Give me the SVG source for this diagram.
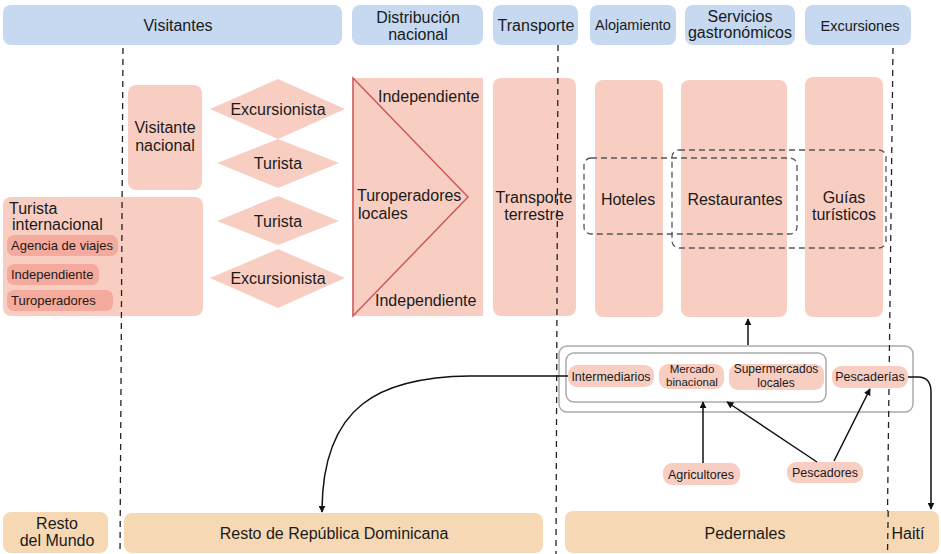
<svg xmlns="http://www.w3.org/2000/svg" width="941" height="554" viewBox="0 0 941 554">
  <defs>
    <style>
      text { font-family: "Liberation Sans", Arial, sans-serif; fill: #1a1a1a; }
      .hdr { fill: #c6d9f0; }
      .blk { fill: #f9cec2; }
      .sub { fill: #f4aa9c; }
      .pill { fill: #f9cec2; }
      .land { fill: #f6d9b4; }
      .c { text-anchor: middle; }
      .f16 { font-size: 16px; }
      .f15 { font-size: 15px; }
      .f13 { font-size: 13px; }
      .f12 { font-size: 12px; }
      .divider { stroke: #222; stroke-width: 1.3; stroke-dasharray: 6 5; fill: none; }
      .grp { fill: none; stroke: #555; stroke-width: 1.3; stroke-dasharray: 6 4; }
      .box { fill: #fff; stroke: #aaa; stroke-width: 1.5; }
      .link { fill: none; stroke: #111; stroke-width: 1.5; }
    </style>
    <marker id="arrow" viewBox="0 0 10 10" refX="9" refY="5" markerWidth="7" markerHeight="7" orient="auto-start-reverse" markerUnits="userSpaceOnUse">
      <path d="M0,0 L10,5 L0,10 z" fill="#111"/>
    </marker>
  </defs>

  <rect width="941" height="554" fill="#fff"/>

  <!-- column headers -->
  <g id="hdr-visitantes"><rect class="hdr" x="3" y="5" width="339" height="40" rx="8"/><text class="c f16" x="178" y="31">Visitantes</text></g>
  <g id="hdr-distribucion"><rect class="hdr" x="352" y="5" width="131" height="40" rx="8"/><text class="c f16" x="418" y="23">Distribución</text><text class="c f16" x="418" y="40">nacional</text></g>
  <g id="hdr-transporte"><rect class="hdr" x="493" y="5" width="85" height="40" rx="8"/><text class="c f16" x="536" y="31">Transporte</text></g>
  <g id="hdr-alojamiento"><rect class="hdr" x="590" y="5" width="86" height="40" rx="8"/><text class="c" style="font-size:14.5px" x="633" y="30">Alojamiento</text></g>
  <g id="hdr-gastronomia"><rect class="hdr" x="685" y="5" width="110" height="40" rx="8"/><text class="c f16" x="740" y="22">Servicios</text><text class="c f16" x="740" y="38">gastronómicos</text></g>
  <g id="hdr-excursiones"><rect class="hdr" x="805" y="5" width="106" height="40" rx="8"/><text class="c" style="font-size:14.5px" x="860" y="31">Excursiones</text></g>

  <!-- visitors -->
  <g id="visitante-nacional"><rect class="blk" x="128" y="85" width="74" height="105" rx="8"/><text class="c f16" x="165" y="133">Visitante</text><text class="c f16" x="165" y="151">nacional</text></g>
  <g id="turista-internacional">
    <rect class="blk" x="3" y="197" width="200" height="119" rx="8"/>
    <text class="f16" x="9" y="214">Turista</text>
    <text class="f16" x="12" y="230">internacional</text>
    <rect class="sub" x="7" y="235" width="111" height="21" rx="7"/><text class="f13" x="11" y="250">Agencia de viajes</text>
    <rect class="sub" x="7" y="264" width="92" height="21" rx="7"/><text class="f13" x="11" y="279">Independiente</text>
    <rect class="sub" x="7" y="290" width="106" height="21" rx="7"/><text class="f13" x="11" y="305">Turoperadores</text>
  </g>
  <g id="excursionista-nac"><polygon class="blk" points="210,109 278,79 345,109 278,139"/><text class="c f16" x="278" y="115">Excursionista</text></g>
  <g id="turista-nac"><polygon class="blk" points="217,163 278,139 339,163 278,188"/><text class="c f16" x="278" y="169">Turista</text></g>
  <g id="turista-int"><polygon class="blk" points="217,221 278,196 339,221 278,245"/><text class="c f16" x="278" y="227">Turista</text></g>
  <g id="excursionista-int"><polygon class="blk" points="210,278 278,249 345,278 278,308"/><text class="c f16" x="278" y="284">Excursionista</text></g>

  <!-- national distribution -->
  <g id="turoperadores-locales">
    <rect class="blk" x="352" y="78" width="131" height="238"/>
    <polygon points="353,78 468,197 353,316" fill="none" stroke="#cc5a5a" stroke-width="1.5"/>
    <text class="f16" x="378" y="102">Independiente</text>
    <text class="f16" x="357" y="201">Turoperadores</text>
    <text class="f16" x="358" y="219">locales</text>
    <text class="f16" x="375" y="306">Independiente</text>
  </g>

  <!-- services -->
  <g id="transporte-terrestre"><rect class="blk" x="493" y="78" width="83" height="238" rx="8"/><text class="c f16" x="534" y="203">Transporte</text><text class="c f16" x="534" y="220">terrestre</text></g>
  <g id="hoteles"><rect class="blk" x="595" y="80" width="68" height="237" rx="8"/><text class="c f16" x="628" y="205">Hoteles</text></g>
  <g id="restaurantes"><rect class="blk" x="681" y="80" width="106" height="237" rx="8"/><text class="c f16" x="735" y="205">Restaurantes</text></g>
  <g id="guias"><rect class="blk" x="805" y="77" width="78" height="240" rx="8"/><text class="c f16" x="844" y="203">Guías</text><text class="c f16" x="844" y="220">turísticos</text></g>

  <!-- dashed groupings -->
  <rect class="grp" x="584" y="158" width="213" height="76" rx="7"/>
  <rect class="grp" x="672" y="150" width="214" height="98" rx="7"/>

  <!-- supply chain frames -->
  <g id="cadena">
    <rect class="box" x="559" y="346" width="354" height="66" rx="8"/>
    <rect class="box" x="566" y="353" width="260" height="49" rx="8"/>
  </g>

  <!-- border lines -->
  <g id="dividers">
    <line class="divider" x1="123" y1="48" x2="120" y2="554"/>
    <line class="divider" x1="558" y1="45" x2="556" y2="554"/>
    <line class="divider" x1="893" y1="48" x2="887" y2="554"/>
  </g>

  <g id="intermediarios"><rect class="pill" x="568" y="365" width="86" height="22" rx="9"/><text class="c" style="font-size:12.5px" x="611" y="381">Intermediarios</text></g>
  <g id="mercado-binacional"><rect class="pill" x="659" y="364" width="65" height="25" rx="9"/><text class="c" style="font-size:11.5px" x="692" y="373">Mercado</text><text class="c" style="font-size:11.5px" x="692" y="386">binacional</text></g>
  <g id="supermercados"><rect class="pill" x="729" y="364" width="95" height="26" rx="9"/><text class="c f12" x="776" y="373">Supermercados</text><text class="c f12" x="776" y="387">locales</text></g>
  <g id="pescaderias"><rect class="pill" x="832" y="366" width="76" height="22" rx="9"/><text class="c" style="font-size:12.5px" x="870" y="381">Pescaderías</text></g>
  <g id="agricultores"><rect class="pill" x="663" y="463" width="77" height="22" rx="9"/><text class="c" style="font-size:12.5px" x="701" y="479">Agricultores</text></g>
  <g id="pescadores"><rect class="pill" x="787" y="462" width="76" height="21" rx="9"/><text class="c" style="font-size:12.5px" x="825" y="477">Pescadores</text></g>

  <!-- territories -->
  <g id="resto-mundo"><rect class="land" x="3" y="512" width="105" height="41" rx="8"/><text class="c f16" x="57" y="529">Resto</text><text class="c f16" x="57" y="546">del Mundo</text></g>
  <g id="resto-rd"><rect class="land" x="124" y="513" width="419" height="40" rx="8"/><text class="c f16" x="334" y="539">Resto de República Dominicana</text></g>
  <g id="pedernales-haiti"><rect class="land" x="565" y="511" width="374" height="42" rx="8"/><text class="c f16" x="745" y="539">Pedernales</text><text class="c f16" x="908" y="539">Haití</text></g>
  <line class="divider" x1="888.2" y1="511" x2="887.5" y2="554"/>

  <!-- connectors -->
  <g id="connectors">
    <path class="link" d="M748,345 L748,319" marker-end="url(#arrow)"/>
    <path class="link" d="M703,463 L703,402" marker-end="url(#arrow)"/>
    <path class="link" d="M817,462 L727,402" marker-end="url(#arrow)"/>
    <path class="link" d="M834,461 L870,389" marker-end="url(#arrow)"/>
    <path class="link" d="M568,376 L470,376 C380,377 322,405 322,512" marker-end="url(#arrow)"/>
    <path class="link" d="M908,377 L918,377 Q931,377 931,392 L931,509" marker-end="url(#arrow)"/>
  </g>
</svg>
